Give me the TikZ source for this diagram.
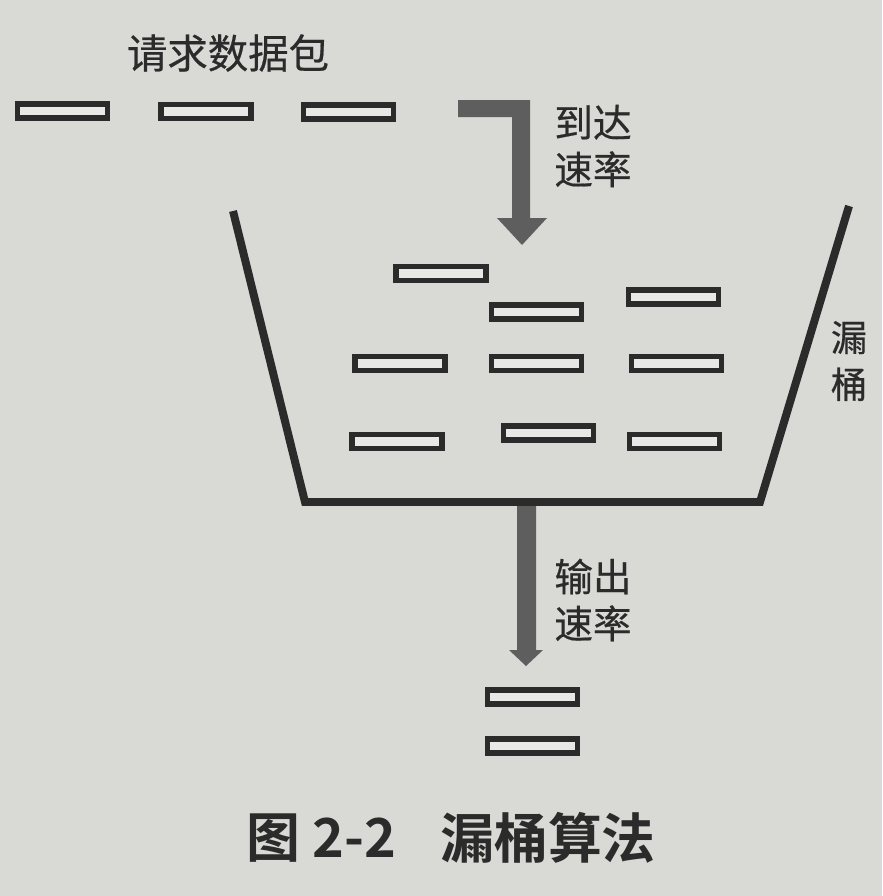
\documentclass[tikz,border=0pt]{standalone}
\usepackage{fontspec}
\newfontfamily\cjk[FakeBold=0.5]{Noto Sans CJK SC}
\newfontfamily\cjkbold{Noto Sans CJK SC Bold}
\definecolor{paper}{HTML}{D9D9D6}
\definecolor{ink}{HTML}{2B2B2B}
\definecolor{arrowgray}{HTML}{5E5E5E}
\tikzset{
  pkt/.style={draw=ink, fill=paper!60!white, line width=4.8pt, minimum width=2.7cm, minimum height=0.42cm, inner sep=0pt, outer sep=0pt},
  lbl/.style={text=ink, inner sep=0pt, align=center, font=\cjk\fontsize{33}{40}\selectfont},
  captext/.style={text=ink, inner sep=0pt, anchor=west, font=\cjkbold\fontsize{46}{50}\selectfont},
  bigarrow/.style={fill=arrowgray, draw=none},
  bucket/.style={draw=ink, line width=6.8pt, line join=miter, line cap=butt}
}
\begin{document}
\begin{tikzpicture}[x=0.03cm, y=-0.03cm]
\fill[paper] (0,0) rectangle (882,896);
\useasboundingbox (0,0) rectangle (882,896);

% title
\node[lbl, font=\cjk\fontsize{34.5}{40}\selectfont] (title) at (228,53) {请求数据包};

% incoming packets
\node[pkt] (p1) at (62.5,111) {};
\node[pkt] (p2) at (206,111.5) {};
\node[pkt] (p3) at (348.5,112) {};

% arrival arrow
\coordinate (a0) at (458,100);
\fill[bigarrow] (a0) -- (530,100) -- (530,218) -- (547,218) -- (522,245) -- (497,218) -- (512,218) -- (512,117) -- (458,117) -- cycle;
\node[lbl] (arr) at (593,146) {到达\\速率};

% bucket
\coordinate (bl) at (233,211);
\coordinate (bbl) at (305,502);
\coordinate (bbr) at (760,502);
\coordinate (br) at (849,206);
\draw[bucket] (bl) -- (bbl) -- (bbr) -- (br);
\node[lbl, font=\cjk\fontsize{31}{40}\selectfont] (lb) at (849,361) {漏\\桶};

% packets in bucket
\node[pkt] (b1) at (441,273.5) {};
\node[pkt] (b2) at (536.5,312) {};
\node[pkt] (b3) at (673.5,297) {};
\node[pkt] (b4) at (400,363.5) {};
\node[pkt] (b5) at (536.5,363.5) {};
\node[pkt] (b6) at (676.5,363.5) {};
\node[pkt] (b7) at (397,441.5) {};
\node[pkt] (b8) at (548.5,433) {};
\node[pkt] (b9) at (674.5,441.5) {};

% output arrow
\fill[bigarrow] (517,506) -- (536,506) -- (536,650) -- (543,650) -- (526,666) -- (509,650) -- (517,650) -- cycle;
\node[lbl] (out) at (593,600) {输出\\速率};

% outgoing packets
\node[pkt] (o1) at (532.5,697) {};
\node[pkt] (o2) at (532.5,746) {};

% caption
\node[captext] (c1) at (246,838) {图 2-2};
\node[captext] (c2) at (440,838) {漏桶算法};
\end{tikzpicture}
\end{document}
